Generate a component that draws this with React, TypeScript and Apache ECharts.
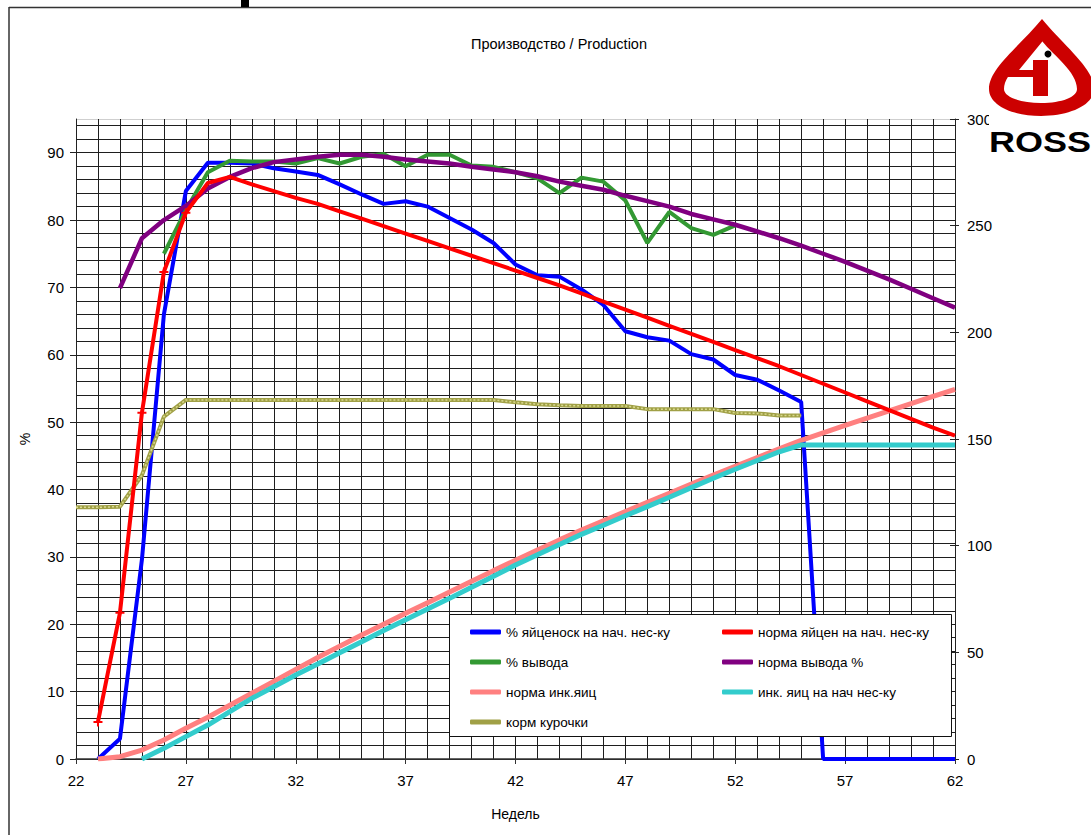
import React, { useEffect, useRef } from "react";
import * as echarts from "echarts";

// ---- data ----
const weeks = [22, 23, 24, 25, 26, 27, 28, 29, 30, 31, 32, 33, 34, 35, 36, 37, 38, 39, 40, 41, 42, 43, 44, 45, 46, 47, 48, 49, 50, 51, 52, 53, 54, 55, 56, 57, 58, 59, 60, 61, 62];
const xTickLabels = [22, 27, 32, 37, 42, 47, 52, 57, 62];
const leftTickLabels = [0, 10, 20, 30, 40, 50, 60, 70, 80, 90];

// % egg production per hen housed (left axis)
const eggProd = [null, 0, 3, 29.6, 66, 84.3, 88.5, 88.5, 88.4, 87.7, 87.2, 86.7, 85.3, 83.8, 82.4, 82.8, 82.0, 80.3, 78.6, 76.6, 73.4, 71.8, 71.6, 69.7, 67.4, 63.5, 62.6, 62.1, 60.1, 59.3, 57.0, 56.3, 54.7, 53.0, 0, 0, 0, 0, 0, 0, 0];
// standard egg production (left axis)
const eggNorm = [null, 5.5, 21.7, 51.4, 72.3, 81.1, 85.5, 86.4, 85.3, 84.3, 83.3, 82.4, 81.3, 80.2, 79.1, 78.0, 76.9, 75.8, 74.7, 73.6, 72.5, 71.4, 70.3, 69.1, 67.9, 66.7, 65.5, 64.3, 63.1, 61.9, 60.7, 59.5, 58.3, 57.0, 55.7, 54.4, 53.1, 51.8, 50.5, 49.2, 48.0];
// % hatch (left axis)
const hatch = [null, null, null, null, 75.0, 81.5, 87.1, 88.8, 88.7, 88.7, 88.4, 89.2, 88.4, 89.4, 89.8, 88.0, 89.7, 89.7, 88.1, 87.9, 87.1, 86.2, 84.0, 86.3, 85.7, 82.9, 76.6, 81.2, 78.8, 77.8, 79.2, null, null, null, null, null, null, null, null, null, null];
// standard hatch % (left axis)
const hatchNorm = [null, null, 69.9, 77.3, 80.0, 82.1, 84.7, 86.4, 87.7, 88.6, 89.0, 89.4, 89.7, 89.7, 89.4, 89.0, 88.7, 88.4, 87.9, 87.5, 87.1, 86.5, 85.7, 85.1, 84.5, 83.6, 82.8, 82.0, 80.9, 80.1, 79.3, 78.3, 77.3, 76.2, 75.0, 73.8, 72.5, 71.2, 69.8, 68.4, 67.0];
// standard cumulative hatching eggs (right axis)
const hEggNorm = [null, 0, 1.1, 4.2, 8.9, 14.4, 19.6, 25.2, 30.8, 36.4, 42.0, 47.6, 52.9, 58.1, 63.2, 68.3, 73.3, 78.3, 83.3, 88.3, 93.2, 98.0, 102.7, 107.3, 111.7, 116.0, 120.3, 124.6, 128.9, 133.1, 137.2, 141.3, 145.4, 149.4, 152.9, 156.4, 159.8, 163.2, 166.6, 170.0, 173.3];
// cumulative hatching eggs per hen housed (right axis)
const hEggs = [null, null, null, 0, 5.0, 10.5, 15.9, 22.2, 28.4, 33.9, 39.4, 44.5, 49.8, 55.0, 60.2, 65.3, 70.3, 75.3, 80.5, 85.7, 90.9, 95.7, 100.5, 105.3, 109.6, 114.0, 118.3, 122.7, 127.2, 131.6, 135.8, 139.9, 144.0, 147.2, 147.2, 147.2, 147.2, 147.2, 147.2, 147.2, 147.2];
// hen feed, g (right axis)
const feed = [118, 118, 118.3, 133, 160.5, 168.3, 168.3, 168.3, 168.3, 168.3, 168.3, 168.3, 168.3, 168.3, 168.3, 168.3, 168.3, 168.3, 168.3, 168.3, 167.2, 166.3, 165.8, 165.5, 165.5, 165.5, 164, 164, 164, 164, 162.2, 162, 161, 161, null, null, null, null, null, null, null];
const markerWeeks = [23, 24, 25, 26, 27];

const N_BLUE = "% яйценоск на нач. нес-ку";
const N_RED = "норма яйцен на нач. нес-ку";
const N_GREEN = "% вывода";
const N_PURPLE = "норма вывода %";
const N_PINK = "норма инк.яиц";
const N_CYAN = "инк. яиц на нач нес-ку";
const N_OLIVE = "корм курочки";

const FONT = '"Liberation Sans", Arial, sans-serif';
const PLUS = "path://M3.5,0h2v3.5h3.5v2h-3.5v3.5h-2v-3.5h-3.5v-2h3.5z";

const OUTER = "M1042,19 C1064,46 1094,68 1094,89 C1094,105 1070,116 1041,116 C1012,116 989,105 989,89 C989,68 1020,46 1042,19 Z";
const INNER = "M1042,41 C1054,56 1077,72 1077,89 C1077,97 1062,103 1041,103 C1020,103 1004,97 1004,89 C1004,72 1030,56 1042,41 Z";
echarts.graphic.registerShape("rossOuter", echarts.graphic.extendPath(OUTER, {}));
echarts.graphic.registerShape("rossInner", echarts.graphic.extendPath(INNER, {}));

const pairs = (arr: (number | null)[]) =>
  weeks.map((w, i) => [w, arr[i]]).filter((p) => p[1] !== null) as number[][];

function buildOption(): any {
  const lineSeries = (name: string, arr: (number | null)[], color: string, width: number, yAxisIndex = 0, z = 2) => ({
    name,
    type: "line",
    yAxisIndex,
    data: pairs(arr),
    symbol: "none",
    showSymbol: false,
    color,
    lineStyle: { color, width },
    z,
    silent: true,
  });

  const redSeries: any = {
    name: N_RED,
    type: "line",
    yAxisIndex: 0,
    symbol: "none",
    showSymbol: true,
    showAllSymbol: true,
    color: "#ff0000",
    lineStyle: { color: "#ff0000", width: 4 },
    itemStyle: { color: "#ff0000" },
    data: pairs(eggNorm).map((p) =>
      markerWeeks.includes(p[0]) ? { value: p, symbol: PLUS, symbolSize: 9 } : { value: p }
    ),
    silent: true,
  };

  const gridColors = Array.from({ length: 49 }, (_, i) => (i === 48 ? "#cfcfcf" : "#1e1e1e"));

  const legendCommon = {
    orient: "vertical",
    top: 624,
    padding: 0,
    itemGap: 14,
    itemWidth: 31,
    itemHeight: 5,
    icon: "roundRect",
    selectedMode: false,
    textStyle: { fontSize: 13.5, lineHeight: 16, color: "#000", fontFamily: FONT },
    z: 5,
  };

  return {
    animation: false,
    backgroundColor: "#fff",
    textStyle: { fontFamily: FONT },
    grid: { left: 76, right: 136, top: 119, bottom: 76, containLabel: false },
    legend: [
      { ...legendCommon, left: 470, data: [N_BLUE, N_GREEN, N_PINK, N_OLIVE] },
      { ...legendCommon, left: 722, data: [N_RED, N_PURPLE, N_CYAN] },
    ],
    xAxis: [
      {
        type: "value",
        min: 22,
        max: 62,
        interval: 1,
        name: "Недель",
        nameLocation: "middle",
        nameGap: 48,
        nameTextStyle: { fontSize: 14, color: "#000", fontFamily: FONT },
        axisLine: { show: true, onZero: false, lineStyle: { color: "#333", width: 1.5 } },
        axisTick: { show: true, customValues: xTickLabels, length: 5, lineStyle: { color: "#333" } },
        axisLabel: { customValues: xTickLabels, fontSize: 15, color: "#000", margin: 14, fontFamily: FONT },
        splitLine: { show: false },
        z: 1,
      },
      {
        // weekly grid lines
        type: "value",
        position: "bottom",
        min: 22,
        max: 62,
        interval: 1,
        axisLine: { show: false },
        axisTick: { show: false },
        axisLabel: { show: false },
        splitLine: { show: true, lineStyle: { color: "#1e1e1e", width: 1 } },
        z: 0,
      },
    ],
    yAxis: [
      {
        type: "value",
        position: "left",
        min: 0,
        max: 95,
        interval: 10,
        name: "%",
        nameLocation: "middle",
        nameGap: 44,
        nameRotate: 90,
        nameTextStyle: { fontSize: 14, color: "#000", fontFamily: FONT },
        axisLine: { show: true, lineStyle: { color: "#222", width: 1 } },
        axisTick: { show: true, customValues: leftTickLabels, length: 6, lineStyle: { color: "#222" } },
        axisLabel: { customValues: leftTickLabels, fontSize: 15, color: "#000", margin: 12, fontFamily: FONT },
        splitLine: { show: false },
        z: 1,
      },
      {
        type: "value",
        position: "right",
        min: 0,
        max: 300,
        interval: 50,
        axisLine: { show: true, lineStyle: { color: "#222", width: 1 } },
        axisTick: { show: true, inside: false, length: 4, lineStyle: { color: "#222" } },
        axisLabel: { fontSize: 15, color: "#000", margin: 12, fontFamily: FONT },
        splitLine: { show: false },
        z: 1,
      },
      {
        type: "value",
        position: "right",
        min: 0,
        max: 300,
        interval: 50,
        axisLine: { show: false },
        axisTick: { show: true, inside: true, length: 5, lineStyle: { color: "#222" } },
        axisLabel: { show: false },
        splitLine: { show: false },
        z: 1,
      },
      {
        // 2% grid lines
        type: "value",
        position: "left",
        min: 0,
        max: 95,
        interval: 2,
        axisLine: { show: false },
        axisTick: { show: false },
        axisLabel: { show: false },
        splitLine: { show: true, lineStyle: { color: gridColors, width: 1 } },
        z: 0,
      },
    ],
    series: [
      lineSeries(N_BLUE, eggProd, "#0000ff", 4),
      redSeries,
      lineSeries(N_GREEN, hatch, "#339933", 4),
      lineSeries(N_PURPLE, hatchNorm, "#800080", 4.5),
      lineSeries(N_PINK, hEggNorm, "#ff8080", 5, 1),
      lineSeries(N_CYAN, hEggs, "#33cccc", 5, 1),
      lineSeries(N_OLIVE, feed, "#a0a046", 4, 1),
      {
        name: "feed-texture",
        type: "line",
        yAxisIndex: 1,
        data: pairs(feed),
        symbol: "none",
        lineStyle: { color: "#d9d98f", width: 1.5, type: [2, 2] },
        silent: true,
        z: 2,
      },
    ],
    graphic: [
      // page frame
      { type: "line", shape: { x1: 9, y1: 7.5, x2: 1091, y2: 7.5 }, style: { stroke: "#333", lineWidth: 1.5 }, z: 1 },
      { type: "line", shape: { x1: 9, y1: 7, x2: 9, y2: 835 }, style: { stroke: "#333", lineWidth: 1.5 }, z: 1 },
      { type: "rect", shape: { x: 241, y: 0, width: 8, height: 7 }, style: { fill: "#000" }, z: 1 },
      // title
      {
        type: "text",
        x: 559,
        y: 44,
        style: { text: "Производство / Production", fontSize: 14.5, fontFamily: FONT, fill: "#000", align: "center", verticalAlign: "middle" },
        z: 5,
      },
      // legend box
      { type: "rect", shape: { x: 449.5, y: 614.5, width: 502, height: 122 }, style: { fill: "#fff", stroke: "#111", lineWidth: 1 }, z: 3 },
      // logo
      { type: "rect", shape: { x: 989, y: 14, width: 102, height: 146 }, style: { fill: "#fff" }, z: 9 },
      { type: "rossOuter", x: 0, y: 0, style: { fill: "#cc0000" }, z: 10 },
      { type: "rossInner", x: 0, y: 0, style: { fill: "#fff" }, z: 11 },
      {
        type: "polygon",
        shape: { points: [[1038, 37], [1046, 37], [1019, 70], [1033, 70], [1033, 60], [1048, 60], [1048, 96], [1033, 96], [1033, 77], [1006, 77]] },
        style: { fill: "#cc0000" },
        z: 12,
      },
      { type: "circle", shape: { cx: 1048, cy: 54, r: 3.5 }, style: { fill: "#000" }, z: 13 },
      {
        type: "text",
        x: 989,
        y: 142,
        scaleX: 1.2,
        style: { text: "ROSS", fontSize: 30, fontWeight: "bold", fontFamily: FONT, fill: "#000", align: "left", verticalAlign: "middle" },
        z: 13,
      },
    ],
  };
}

export default function App() {
  const ref = useRef<HTMLDivElement>(null);
  useEffect(() => {
    if (!ref.current) return;
    const chart = echarts.init(ref.current, null, { renderer: "svg" });
    chart.setOption(buildOption());
    return () => chart.dispose();
  }, []);
  return (
    <div
      ref={ref}
      style={{ position: "fixed", left: 0, top: 0, width: 1091, height: 835, background: "#fff" }}
    />
  );
}
